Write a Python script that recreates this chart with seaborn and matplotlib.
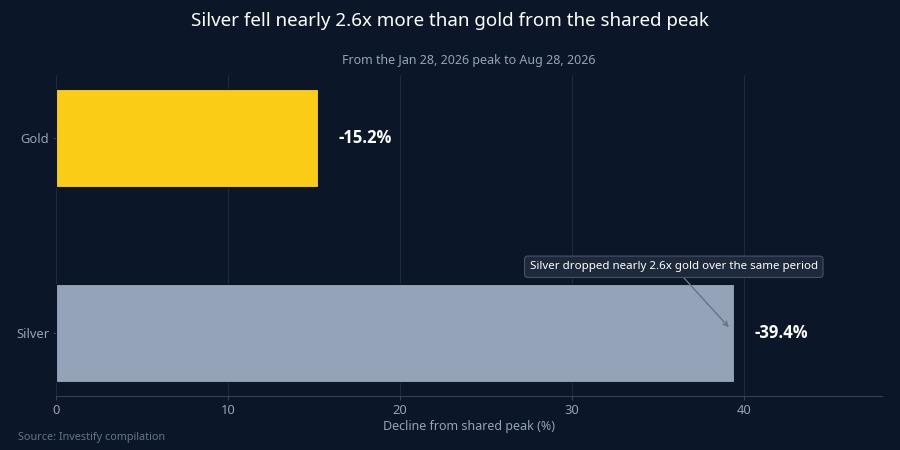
import matplotlib
matplotlib.use("Agg")
import matplotlib.pyplot as plt
import seaborn as sns
import pandas as pd

metals = ["Gold", "Silver"]
declines = [15.2, 39.4]
bar_colors = ["#facc15", "#94a3b8"]
value_labels = ["-15.2%", "-39.4%"]
x_ticks = [0, 10, 20, 30, 40]

BG = "#0b1728"
sns.set_theme(style="dark")
plt.rcParams["font.family"] = ["Noto Sans", "DejaVu Sans"]

df = pd.DataFrame({"metal": metals, "decline": declines})

fig = plt.figure(figsize=(9, 4.5), dpi=100, facecolor=BG)
ax = fig.add_axes([0.0622, 0.12, 0.9178, 0.713])
ax.set_facecolor(BG)

sns.barplot(data=df, x="decline", y="metal", hue="metal", palette=bar_colors,
            orient="h", width=0.5, ax=ax, legend=False, saturation=1,
            edgecolor=BG, linewidth=0.8)

ax.set_xlim(0, 48)
ax.set_ylim(1.323, -0.323)
ax.set_xticks(x_ticks)
ax.grid(axis="x", color="#1e2a3b", linewidth=0.8)
ax.grid(axis="y", visible=False)
for s in ["top", "right", "left"]:
    ax.spines[s].set_visible(False)
ax.spines["bottom"].set_color("#334155")
ax.spines["bottom"].set_linewidth(0.8)
ax.tick_params(axis="x", colors="#94a3b8", labelcolor="#94a3b8", labelsize=9.3,
               length=3, width=0.8, pad=3, bottom=True, color="#334155")
ax.tick_params(axis="y", colors="#94a3b8", labelcolor="#94a3b8", labelsize=9.3,
               length=2.5, width=0.8, pad=2.5, left=True, color="#334155")
ax.set_xlabel("Decline from shared peak (%)", color="#94a3b8", fontsize=9, labelpad=2)
ax.set_ylabel("")

for i, (v, lab) in enumerate(zip(declines, value_labels)):
    ax.text(v + 1.2, i, lab, color="white", fontsize=12, fontweight="bold",
            family=["Open Sans", "DejaVu Sans"], va="center", ha="left")

ax.annotate("Silver dropped nearly 2.6x gold over the same period",
            xy=(39.1, 0.97), xytext=(35.9, 0.66),
            color="white", fontsize=8.3, ha="center", va="center",
            bbox=dict(boxstyle="round,pad=0.45,rounding_size=0.3", fc="#1e293b",
                      ec="#475569", lw=0.8),
            arrowprops=dict(arrowstyle="->", color="#64748b", lw=1,
                            shrinkA=0, shrinkB=0))

fig.text(0.5, 0.953, "Silver fell nearly 2.6x more than gold from the shared peak",
         color="white", fontsize=13.5, ha="center", va="center")
ax.text(0.5, 1.045, "From the Jan 28, 2026 peak to Aug 28, 2026", transform=ax.transAxes,
        color="#94a3b8", fontsize=9, ha="center", va="center")
fig.text(0.02, 0.028, "Source: Investify compilation",
         color="#64748b", fontsize=7.8, ha="left", va="center")

fig.savefig("out.png", dpi=100, facecolor=BG)
